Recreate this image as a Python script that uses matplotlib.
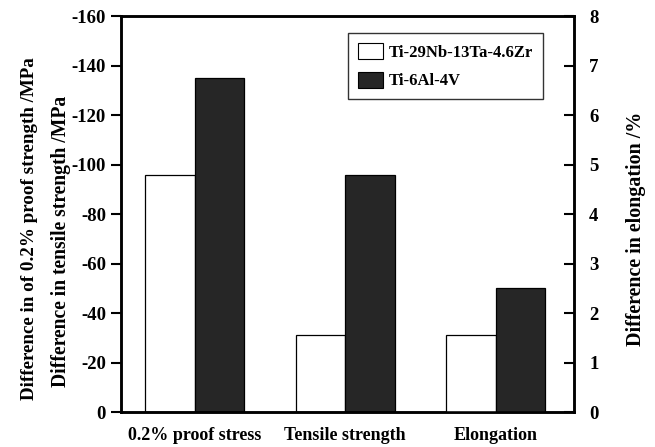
import matplotlib
matplotlib.use("Agg")
import matplotlib.pyplot as plt
import numpy as np
from matplotlib.patches import Patch

categories = ["0.2% proof stress", "Tensile strength", "Elongation"]
series_names = ["Ti-29Nb-13Ta-4.6Zr", "Ti-6Al-4V"]
# MPa differences (left axis) for first two groups, % elongation (right axis) for the third
tinbtazr_mpa = [-96, -31]
ti64_mpa = [-135, -96]
tinbtazr_elong = 1.55
ti64_elong = 2.5
left_ticks = [0, -20, -40, -60, -80, -100, -120, -140, -160]
right_ticks = [0, 1, 2, 3, 4, 5, 6, 7, 8]

plt.rcParams['font.family'] = ['Liberation Serif', 'DejaVu Serif']
plt.rcParams['font.weight'] = 'bold'

fig = plt.figure(figsize=(6.55, 4.47), dpi=100)
ax = fig.add_axes([0.185, 0.078, 0.691, 0.886])
ax2 = ax.twinx()

w = 0.33
x = np.arange(len(categories))
dark = '#262626'

ax.bar(x[:2] - w/2, tinbtazr_mpa, width=w, color='white', edgecolor='black', linewidth=0.9)
ax.bar(x[:2] + w/2, ti64_mpa, width=w, color=dark, edgecolor='black', linewidth=0.9)
ax2.bar([x[2] - w/2], [tinbtazr_elong], width=w, color='white', edgecolor='black', linewidth=0.9)
ax2.bar([x[2] + w/2], [ti64_elong], width=w, color=dark, edgecolor='black', linewidth=0.9)

ax.set_ylim(0, -160)
ax.set_yticks(left_ticks)
ax.set_yticklabels([str(t) for t in left_ticks])
ax2.set_ylim(0, 8)
ax2.set_yticks(right_ticks)
ax.set_xlim(-0.49, 2.52)
ax.set_xticks(x)
ax.set_xticklabels(categories, fontsize=13, fontweight='bold')
ax.tick_params(axis='x', length=0, pad=11)
ax.tick_params(axis='y', direction='out', length=7, width=1.5, labelsize=13.5, pad=4)
ax2.tick_params(axis='y', direction='in', length=7, width=1.5, labelsize=13.5, pad=11)
for a in (ax, ax2):
    for s in a.spines.values():
        s.set_linewidth(1.8)
    for lbl in a.get_yticklabels():
        lbl.set_fontweight('bold')

fig.text(0.045, 0.488, "Difference in of 0.2% proof strength /MPa", rotation=90,
         ha='center', va='center', fontsize=13.7, fontweight='bold')
fig.text(0.093, 0.459, "Difference in tensile strength /MPa", rotation=90,
         ha='center', va='center', fontsize=14.1, fontweight='bold')
fig.text(0.971, 0.487, "Difference in elongation /%", rotation=90,
         ha='center', va='center', fontsize=14.4, fontweight='bold')

handles = [Patch(facecolor='white', edgecolor='black', linewidth=0.8),
           Patch(facecolor=dark, edgecolor='black', linewidth=0.8)]
leg = ax2.legend(handles, series_names, loc='upper right', bbox_to_anchor=(0.931, 0.957),
                 fancybox=False, edgecolor='black',
                 prop={'weight': 'bold', 'size': 12}, handlelength=1.5, handleheight=1.1,
                 borderpad=0.6, labelspacing=0.65, handletextpad=0.3, borderaxespad=0)
leg.get_frame().set_linewidth(1.0)

fig.savefig("out.png", dpi=100)
